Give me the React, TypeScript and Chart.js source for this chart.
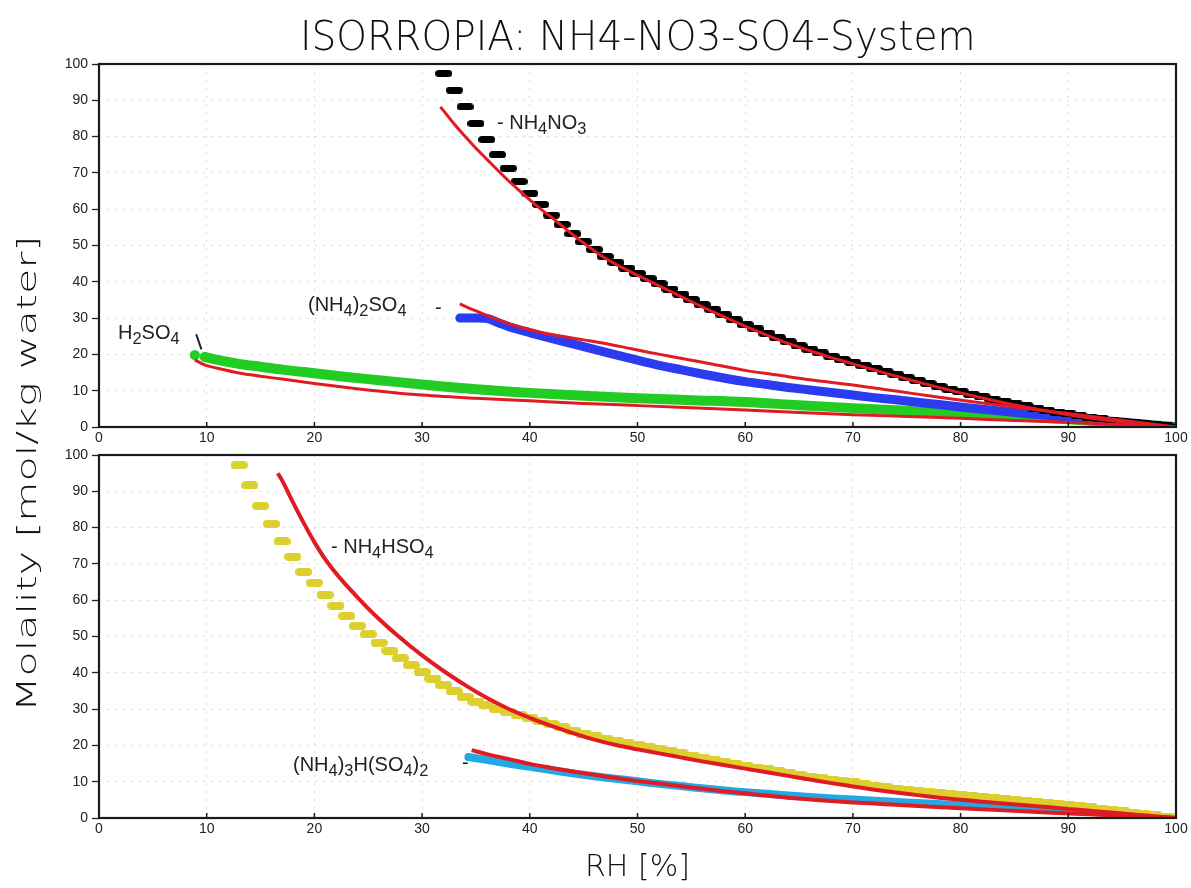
import React, { useEffect, useLayoutEffect, useRef } from 'react';
import { Chart, registerables } from 'chart.js';

Chart.register(...registerables);

// ---------------- data (RH in %, molality in mol/kg water) ----------------
// Top panel
const nh4no3ModelRH = [32, 33, 34, 35, 36, 37, 38, 39, 40, 41, 42, 43, 44, 45, 46, 47, 48, 49, 50, 51, 52, 53, 54, 55, 56, 57, 58, 59, 60, 61, 62, 63, 64, 65, 66, 67, 68, 69, 70, 71, 72, 73, 74, 75, 76, 77, 78, 79, 80, 81, 82, 83, 84, 85, 86, 87, 88, 89, 90, 91, 92, 93, 94, 95, 96, 97, 98, 99, 100];
const nh4no3Model = [97.4, 92.8, 88.2, 83.6, 79.2, 75.0, 71.3, 67.6, 64.4, 61.3, 58.4, 55.8, 53.2, 51.0, 48.9, 47.0, 45.3, 43.8, 42.3, 40.9, 39.5, 38.0, 36.6, 35.1, 33.7, 32.3, 30.9, 29.5, 28.2, 27.0, 25.8, 24.6, 23.5, 22.4, 21.4, 20.4, 19.5, 18.6, 17.8, 16.9, 16.1, 15.2, 14.4, 13.6, 12.8, 12.0, 11.2, 10.4, 9.7, 9.0, 8.3, 7.6, 7.0, 6.4, 5.8, 5.2, 4.6, 4.1, 3.6, 3.1, 2.7, 2.3, 1.9, 1.5, 1.2, 0.9, 0.6, 0.3, 0.0];
const nh4no3RefRH = [31.7, 33, 34, 35, 36, 37, 38, 39, 40, 41, 42, 43, 44, 45, 46, 47, 48, 50, 52, 54, 56, 58, 60, 62, 64, 66, 68, 70, 72, 74, 76, 78, 80, 82, 84, 86, 88, 90, 92, 94, 96, 98, 100];
const nh4no3Ref = [88.2, 83.4, 80.0, 76.8, 73.8, 70.8, 67.9, 65.2, 62.6, 60.1, 57.8, 55.4, 53.0, 50.7, 48.5, 46.5, 44.8, 41.8, 38.9, 36.0, 33.1, 30.4, 27.7, 25.3, 23.0, 21.0, 19.1, 17.4, 15.7, 14.0, 12.4, 10.9, 9.4, 8.0, 6.7, 5.5, 4.4, 3.4, 2.5, 1.7, 1.0, 0.4, 0.0];

const as2so4ModelRH = [33.5, 34, 35, 36, 37, 38, 39, 40, 42, 44, 46, 48, 50, 52, 54, 56, 58, 60, 62, 64, 66, 68, 70, 72, 74, 76, 78, 80, 82, 84, 86, 88, 90, 92, 94, 96, 98, 100];
const as2so4Model = [30.0, 30.0, 30.0, 29.9, 28.8, 27.7, 26.8, 26.0, 24.4, 22.9, 21.4, 19.9, 18.4, 17.0, 15.8, 14.6, 13.5, 12.5, 11.7, 10.9, 10.2, 9.5, 8.8, 8.1, 7.5, 6.8, 6.2, 5.5, 4.9, 4.3, 3.7, 3.2, 2.7, 2.1, 1.6, 1.1, 0.5, 0.0];
const as2so4RefRH = [33.5, 35, 37, 39, 41, 43, 45, 47, 49, 51, 53, 55, 57, 60, 63, 66, 70, 74, 78, 82, 86, 90, 94, 97, 100];
const as2so4Ref = [33.9, 32.0, 29.6, 27.6, 26.1, 25.0, 24.0, 23.0, 21.8, 20.6, 19.5, 18.4, 17.3, 15.6, 14.3, 13.0, 11.6, 9.9, 8.2, 6.6, 5.1, 3.7, 2.2, 1.1, 0.0];

const h2so4ModelRH = [8.9, 9.35, 9.8, 11, 13, 15, 17, 20, 23, 26, 30, 35, 40, 45, 50, 55, 60, 65, 70, 75, 80, 85, 90, 95, 100];
const h2so4Model = [19.8, null, 19.3, 18.5, 17.4, 16.6, 15.8, 14.8, 13.8, 12.9, 11.7, 10.4, 9.4, 8.6, 7.9, 7.4, 6.9, 6.0, 5.2, 4.5, 3.9, 3.0, 2.1, 1.1, 0.0];
const h2so4RefRH = [8.9, 9.8, 11, 13, 15, 17, 20, 23, 27, 30, 35, 40, 45, 50, 55, 60, 65, 70, 75, 80, 85, 90, 95, 100];
const h2so4Ref = [18.5, 17.1, 16.2, 14.9, 14.0, 13.2, 12.0, 10.9, 9.6, 8.8, 7.9, 7.2, 6.5, 5.9, 5.3, 4.7, 4.0, 3.4, 2.9, 2.4, 1.8, 1.3, 0.6, 0.0];

// Bottom panel
const nh4hso4ModelRH = [13, 14, 15, 16, 17, 18, 19, 20, 21, 22, 23, 24, 25, 26, 27, 28, 29, 30, 31, 32, 33, 34, 35, 36, 37, 38, 39, 40, 41, 42, 43, 44, 45, 46, 47, 48, 49, 50, 51, 52, 53, 54, 55, 56, 57, 58, 59, 60, 61, 62, 63, 64, 65, 66, 67, 68, 69, 70, 71, 72, 73, 74, 75, 76, 77, 78, 79, 80, 81, 82, 83, 84, 85, 86, 87, 88, 89, 90, 91, 92, 93, 94, 95, 96, 97, 98, 99, 100];
const nh4hso4Model = [97.2, 91.6, 86.0, 81.0, 76.2, 72.0, 67.8, 64.8, 61.5, 58.5, 55.6, 52.9, 50.6, 48.3, 46.1, 44.0, 42.1, 40.2, 38.4, 36.6, 34.9, 33.4, 32.0, 31.0, 30.0, 29.1, 28.4, 27.6, 26.7, 25.9, 25.0, 24.1, 23.2, 22.5, 21.8, 21.2, 20.6, 20.1, 19.5, 19.0, 18.4, 17.8, 17.2, 16.6, 16.0, 15.4, 14.9, 14.4, 13.9, 13.4, 12.9, 12.4, 11.9, 11.4, 11.0, 10.6, 10.2, 9.8, 9.3, 8.9, 8.5, 8.1, 7.8, 7.5, 7.2, 6.9, 6.6, 6.3, 6.0, 5.8, 5.5, 5.3, 5.0, 4.8, 4.5, 4.2, 3.9, 3.6, 3.2, 2.9, 2.5, 2.2, 1.8, 1.5, 1.1, 0.7, 0.4, 0.0];
const nh4hso4RefRH = [16.6, 17, 18, 19, 20, 21, 22, 23, 24, 25, 26, 27, 28, 29, 30, 31, 32, 34, 36, 38, 40, 42, 44, 46, 48, 50, 52, 54, 56, 58, 60, 62, 64, 66, 68, 70, 72, 74, 76, 78, 80, 82, 84, 86, 88, 90, 92, 94, 96, 98, 100];
const nh4hso4Ref = [95.0, 93.0, 87.0, 81.3, 76.0, 71.3, 67.4, 64.0, 60.8, 57.7, 54.8, 52.1, 49.6, 47.1, 44.8, 42.6, 40.5, 36.6, 33.1, 30.1, 27.6, 25.4, 23.4, 21.6, 20.1, 18.9, 17.8, 16.7, 15.6, 14.6, 13.6, 12.6, 11.6, 10.6, 9.6, 8.7, 7.8, 7.0, 6.3, 5.6, 5.0, 4.5, 4.0, 3.5, 3.0, 2.5, 2.0, 1.5, 1.0, 0.5, 0.0];

const letoviciteModelRH = [34.3, 36, 38, 40, 42, 44, 46, 48, 50, 52, 55, 58, 61, 64, 67, 70, 73, 76, 80, 84, 88, 92, 96, 100];
const letoviciteModel = [16.8, 16.0, 15.0, 14.1, 13.2, 12.3, 11.5, 10.8, 10.1, 9.4, 8.5, 7.6, 6.9, 6.2, 5.6, 5.1, 4.6, 4.1, 3.5, 3.0, 2.4, 1.7, 0.9, 0.0];
const letoviciteRefRH = [34.6, 36, 38, 40, 42, 44, 46, 48, 50, 52, 55, 58, 61, 64, 67, 70, 73, 76, 80, 84, 88, 92, 96, 100];
const letoviciteRef = [18.7, 17.6, 16.3, 14.9, 13.8, 12.8, 11.9, 11.0, 10.2, 9.5, 8.4, 7.4, 6.5, 5.6, 4.9, 4.3, 3.8, 3.3, 2.7, 2.1, 1.5, 1.0, 0.5, 0.0];

const xTicks = [0, 10, 20, 30, 40, 50, 60, 70, 80, 90, 100];
const yTicks = [0, 10, 20, 30, 40, 50, 60, 70, 80, 90, 100];

// ---------------- layout ----------------
const W = 1191;
const H = 888;
const PLOT_LEFT = 99;
const PLOT_RIGHT = 1176;
const X_AXIS_H = 23;
const TOP_PANEL = { top: 64, bottom: 427 };
const BOTTOM_PANEL = { top: 455, bottom: 818 };

const RED = '#e11b22';
const TICK_FONT = '"Liberation Sans", Arial, Helvetica, sans-serif';
const GRADS_FONT = '"DejaVu Sans", "Liberation Sans", sans-serif';

function pts(xs: number[], ys: (number | null)[]) {
  return xs.map((x, i) => ({ x, y: ys[i] }));
}

function pill(color: string, w = 17, h = 7): HTMLCanvasElement {
  const c = document.createElement('canvas');
  c.width = w;
  c.height = h;
  const g = c.getContext('2d')!;
  g.fillStyle = color;
  g.beginPath();
  const r = h / 2;
  g.moveTo(r, 0);
  g.lineTo(w - r, 0);
  g.arc(w - r, r, r, -Math.PI / 2, Math.PI / 2);
  g.lineTo(r, h);
  g.arc(r, r, r, Math.PI / 2, (3 * Math.PI) / 2);
  g.closePath();
  g.fill();
  return c;
}

const framePlugin = {
  id: 'frame',
  afterDraw(chart: any) {
    const { ctx, chartArea } = chart;
    const xs = chart.scales.x;
    ctx.save();
    ctx.strokeStyle = '#1a1a1a';
    ctx.lineWidth = 1.5;
    for (const v of xTicks) {
      const px = xs.getPixelForValue(v);
      ctx.beginPath();
      ctx.moveTo(px, chartArea.bottom);
      ctx.lineTo(px, chartArea.bottom - 5);
      ctx.stroke();
    }
    ctx.lineWidth = 2.2;
    ctx.strokeRect(chartArea.left, chartArea.top, chartArea.right - chartArea.left, chartArea.bottom - chartArea.top);
    ctx.restore();
  },
};

function makeConfig(datasets: any[], panel: { top: number; bottom: number }): any {
  return {
    type: 'scatter',
    data: { datasets },
    options: {
      responsive: false,
      animation: false,
      devicePixelRatio: 1,
      events: [],
      layout: {
        padding: { top: panel.top, bottom: H - panel.bottom - X_AXIS_H, left: 0, right: W - PLOT_RIGHT },
      },
      plugins: { legend: { display: false }, tooltip: { enabled: false }, title: { display: false } },
      scales: {
        x: {
          type: 'linear',
          min: 0,
          max: 100,
          afterBuildTicks: (s: any) => {
            s.ticks = xTicks.map((v) => ({ value: v }));
          },
          ticks: { color: '#222', font: { family: TICK_FONT, size: 14 }, padding: 3, maxRotation: 0, autoSkip: false },
          grid: { color: '#dcdcdc', lineWidth: 1, drawTicks: false },
          border: { display: false, dash: [2, 6] },
          afterFit: (s: any) => {
            s.height = X_AXIS_H;
          },
        },
        y: {
          min: 0,
          max: 100,
          afterBuildTicks: (s: any) => {
            s.ticks = yTicks.map((v) => ({ value: v }));
          },
          ticks: { color: '#222', font: { family: TICK_FONT, size: 14 }, padding: 4, autoSkip: false },
          grid: { color: '#dcdcdc', lineWidth: 1, tickColor: '#222', tickLength: 7, tickWidth: 1.3, tickBorderDash: [] },
          border: { display: false, dash: [2, 6] },
          afterFit: (s: any) => {
            s.width = PLOT_LEFT;
          },
        },
      },
    },
    plugins: [framePlugin],
  };
}

function redLine(xs: number[], ys: number[], width = 3): any {
  return {
    data: pts(xs, ys),
    showLine: true,
    borderColor: RED,
    borderWidth: width,
    pointRadius: 0,
    cubicInterpolationMode: 'monotone',
    order: 0,
  };
}

function band(xs: number[], ys: (number | null)[], color: string, width: number): any {
  return {
    data: pts(xs, ys),
    showLine: true,
    spanGaps: false,
    borderColor: color,
    backgroundColor: color,
    borderWidth: width,
    borderCapStyle: 'round',
    borderJoinStyle: 'round',
    pointRadius: 0,
    cubicInterpolationMode: 'monotone',
    order: 1,
  };
}

function FitText(props: { text: string; left: number; top: number; width: number; size: number; rotate?: boolean }) {
  const ref = useRef<HTMLDivElement>(null);
  useLayoutEffect(() => {
    const el = ref.current!;
    const nat = el.offsetWidth;
    const s = props.width / nat;
    el.style.transform = props.rotate ? `rotate(-90deg) scaleX(${s})` : `scaleX(${s})`;
  }, []);
  return (
    <div
      ref={ref}
      style={{
        position: 'absolute',
        left: props.left,
        top: props.top,
        fontFamily: GRADS_FONT,
        fontWeight: 300,
        fontSize: props.size,
        lineHeight: 1,
        whiteSpace: 'nowrap',
        transformOrigin: '0 0',
        color: '#111',
      }}
    >
      {props.text}
    </div>
  );
}

const subStyle: React.CSSProperties = { fontSize: '0.82em', verticalAlign: '-0.28em', lineHeight: 0 };
const annStyle: React.CSSProperties = {
  position: 'absolute',
  fontFamily: TICK_FONT,
  fontSize: 20,
  lineHeight: 1,
  whiteSpace: 'nowrap',
  color: '#222',
};

export default function App() {
  const topRef = useRef<HTMLCanvasElement>(null);
  const botRef = useRef<HTMLCanvasElement>(null);

  useEffect(() => {
    const blackPill = pill('#000000', 17, 7);
    const yellowPill = pill('#dccf2e', 17, 8);

    const topDatasets = [
      redLine(nh4no3RefRH, nh4no3Ref, 3),
      redLine(as2so4RefRH, as2so4Ref, 3),
      redLine(h2so4RefRH, h2so4Ref, 3),
      {
        data: pts(nh4no3ModelRH, nh4no3Model),
        showLine: false,
        pointStyle: blackPill,
        pointRadius: 4,
        order: 1,
      },
      band(as2so4ModelRH, as2so4Model, '#2b3cf0', 9),
      {
        ...band(h2so4ModelRH, h2so4Model, '#22cc22', 10),
        pointRadius: (c: any) => (c.dataIndex === 0 ? 5 : 0),
        pointBackgroundColor: '#22cc22',
        pointBorderWidth: 0,
      },
    ];

    const botDatasets = [
      redLine(nh4hso4RefRH, nh4hso4Ref, 4),
      redLine(letoviciteRefRH, letoviciteRef, 4),
      {
        data: pts(nh4hso4ModelRH, nh4hso4Model),
        showLine: false,
        pointStyle: yellowPill,
        pointRadius: 4,
        order: 1,
      },
      band(letoviciteModelRH, letoviciteModel, '#22a8e2', 8),
    ];

    const c1 = new Chart(topRef.current!, makeConfig(topDatasets, TOP_PANEL));
    const c2 = new Chart(botRef.current!, makeConfig(botDatasets, BOTTOM_PANEL));
    return () => {
      c1.destroy();
      c2.destroy();
    };
  }, []);

  return (
    <div style={{ position: 'absolute', left: 0, top: 0, width: W, height: H, background: '#fff', overflow: 'hidden' }}>
      <canvas ref={topRef} width={W} height={H} style={{ position: 'absolute', left: 0, top: 0 }} />
      <canvas ref={botRef} width={W} height={H} style={{ position: 'absolute', left: 0, top: 0 }} />

      <FitText text="ISORROPIA: NH4-NO3-SO4-System" left={300} top={16} width={676} size={40} />
      <FitText text="Molality  [mol/kg water]" left={14} top={712} width={476} size={26} rotate />
      <FitText text="RH  [%]" left={585} top={851} width={105} size={30} />

      <div style={{ ...annStyle, left: 497, top: 112 }}>
        - NH<sub style={subStyle}>4</sub>NO<sub style={subStyle}>3</sub>
      </div>
      <div style={{ ...annStyle, left: 308, top: 294 }}>
        (NH<sub style={subStyle}>4</sub>)<sub style={subStyle}>2</sub>SO<sub style={subStyle}>4</sub>
      </div>
      <div style={{ ...annStyle, left: 435, top: 297 }}>-</div>
      <div style={{ ...annStyle, left: 118, top: 322 }}>
        H<sub style={subStyle}>2</sub>SO<sub style={subStyle}>4</sub>
      </div>
      <div
        style={{
          position: 'absolute',
          left: 198.5 - 8,
          top: 341,
          width: 16,
          height: 1.6,
          background: '#222',
          transform: 'rotate(71deg)',
          transformOrigin: '50% 50%',
        }}
      />
      <div style={{ ...annStyle, left: 331, top: 536 }}>
        - NH<sub style={subStyle}>4</sub>HSO<sub style={subStyle}>4</sub>
      </div>
      <div style={{ ...annStyle, left: 293, top: 754 }}>
        (NH<sub style={subStyle}>4</sub>)<sub style={subStyle}>3</sub>H(SO<sub style={subStyle}>4</sub>)<sub style={subStyle}>2</sub>
      </div>
      <div style={{ ...annStyle, left: 462, top: 752 }}>-</div>
    </div>
  );
}
